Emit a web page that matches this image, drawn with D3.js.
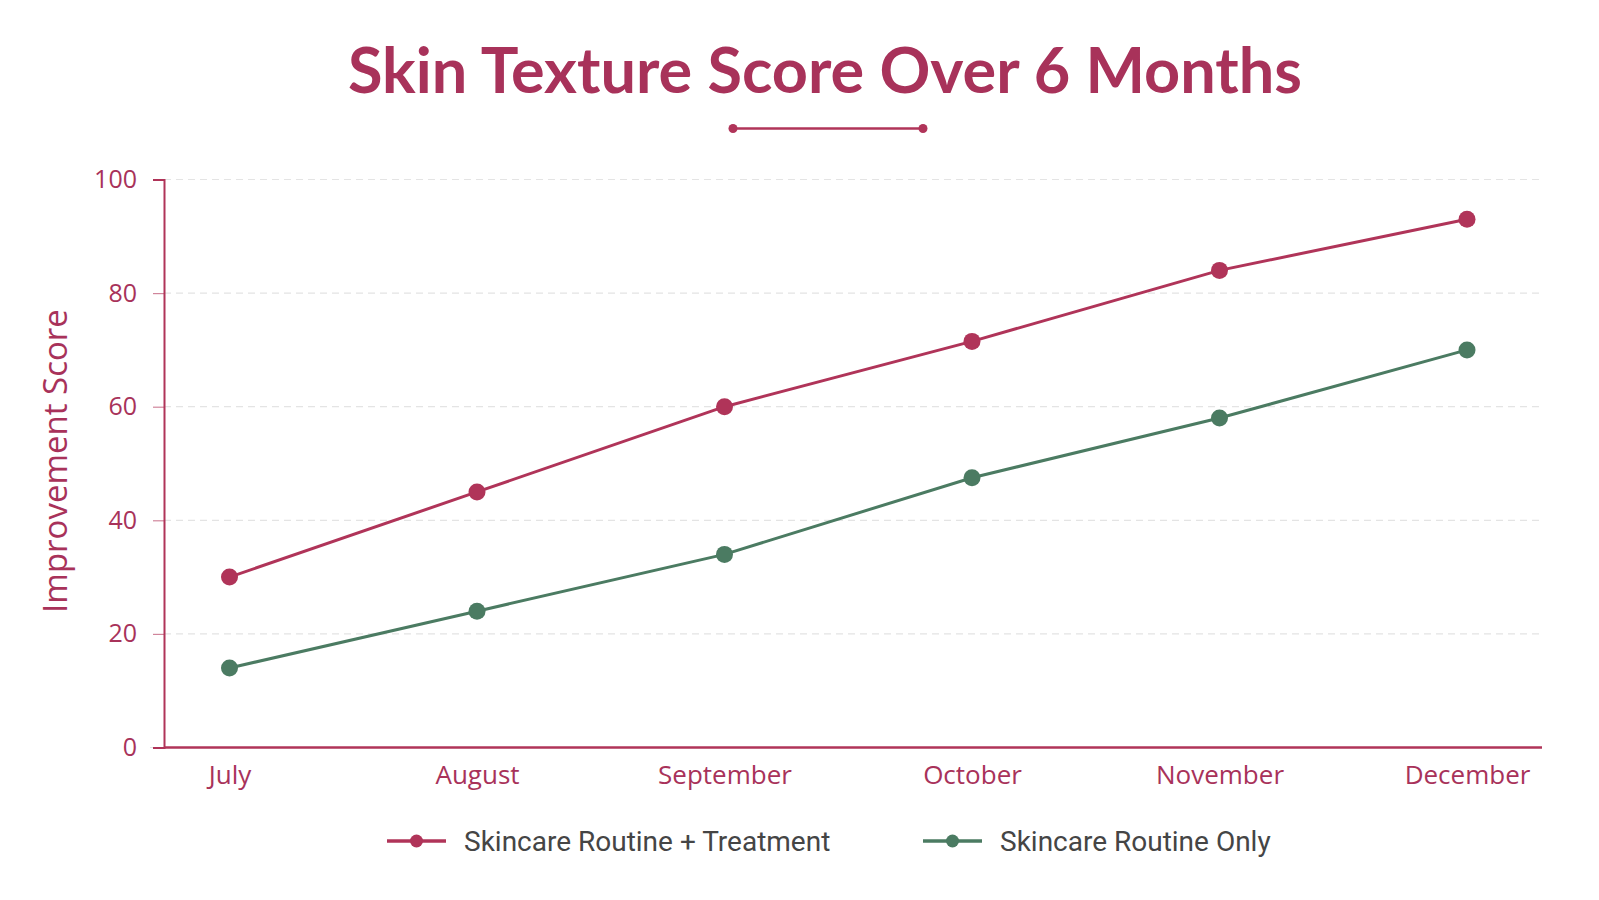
<!DOCTYPE html>
<html>
<head>
<meta charset="utf-8">
<script src="https://cdn.jsdelivr.net/npm/d3@7"></script>
<style>
  html, body { margin: 0; padding: 0; background: #ffffff; }
  svg { display: block; }
</style>
</head>
<body>
<svg id="chart" width="1599" height="900"></svg>
<script>
const months = ["July", "August", "September", "October", "November", "December"];
const treatmentValues = [30, 45, 60, 71.5, 84, 93];
const routineValues = [14, 24, 34, 47.5, 58, 70];
const yTicks = [0, 20, 40, 60, 80, 100];
const seriesNames = ["Skincare Routine + Treatment", "Skincare Routine Only"];
const seriesColors = ["#b03459", "#4b7b62"];
const titleText = "Skin Texture Score Over 6 Months";
const yLabel = "Improvement Score";

const svg = d3.select("#chart");
const W = 1599, H = 900;
const margin = { left: 164, right: 57, top: 179.5, bottom: 152.5 };
const plotW = W - margin.left - margin.right;
const plotH = H - margin.top - margin.bottom;
const axisColor = "#b03459";
const textFont = "'Open Sans', sans-serif";

const x = d3.scalePoint().domain(months).range([65.5, plotW - 75]);
const y = d3.scaleLinear().domain([0, 100]).range([plotH, 0]);

// Title
svg.append("text")
  .attr("x", 825).attr("y", 93)
  .attr("text-anchor", "middle")
  .attr("font-family", "Lato, 'Open Sans', sans-serif")
  .attr("font-weight", 700)
  .attr("font-size", 63)
  .attr("fill", "#a8325a")
  .text(titleText);

// decorative line
const deco = svg.append("g").attr("transform", "translate(0,128.5)");
deco.append("line").attr("x1", 733).attr("x2", 923).attr("y1", 0).attr("y2", 0)
  .attr("stroke", "#b03459").attr("stroke-width", 2.5);
[733, 923].forEach(cx => deco.append("circle").attr("cx", cx).attr("cy", 0).attr("r", 4.5).attr("fill", "#b03459"));

const g = svg.append("g").attr("transform", `translate(${margin.left},${margin.top})`);

// gridlines
g.append("g")
  .selectAll("line")
  .data(yTicks)
  .join("line")
  .attr("x1", d => d === 0 ? -14 : 0).attr("x2", plotW)
  .attr("y1", d => y(d)).attr("y2", d => y(d))
  .attr("stroke", "#e4e4e4").attr("stroke-width", 1.2)
  .attr("stroke-dasharray", d => d === 0 ? null : "7,5");

// y axis
const yAxis = g.append("g")
  .call(d3.axisLeft(y).tickValues(yTicks).tickSize(11).tickPadding(16));
yAxis.select(".domain").attr("stroke", axisColor).attr("stroke-width", 2);
yAxis.selectAll(".tick line").attr("stroke", axisColor).attr("stroke-width", 1.2).attr("stroke-opacity", 0.6);
yAxis.selectAll(".tick text")
  .attr("fill", "#a8325a")
  .attr("font-family", textFont)
  .attr("font-size", 25);

// x axis
const xAxis = g.append("g")
  .attr("transform", `translate(0,${plotH})`)
  .call(d3.axisBottom(x).tickSize(0).tickPadding(18));
xAxis.select(".domain").remove();
xAxis.append("line").attr("x1", 0).attr("x2", plotW).attr("y1", 0).attr("y2", 0)
  .attr("stroke", axisColor).attr("stroke-width", 2.5);
xAxis.selectAll(".tick text")
  .attr("fill", "#a8325a")
  .attr("font-family", textFont)
  .attr("font-size", 26)
  .attr("dy", "0.71em");

// y label
svg.append("text")
  .attr("transform", `translate(67,461) rotate(-90)`)
  .attr("text-anchor", "middle")
  .attr("font-family", textFont)
  .attr("font-size", 33)
  .attr("fill", "#a8325a")
  .text(yLabel);

// lines
const seriesData = [treatmentValues, routineValues];
const line = d3.line().x((d, i) => x(months[i])).y(d => y(d));
seriesData.forEach((vals, si) => {
  g.append("path")
    .datum(vals)
    .attr("d", line)
    .attr("fill", "none")
    .attr("stroke", seriesColors[si])
    .attr("stroke-width", 3);
  g.append("g").selectAll("circle")
    .data(vals)
    .join("circle")
    .attr("cx", (d, i) => x(months[i]))
    .attr("cy", d => y(d))
    .attr("r", 8.5)
    .attr("fill", seriesColors[si]);
});

// legend
const legendX = [387, 923];
const legend = svg.append("g").attr("transform", "translate(0,841)");
seriesNames.forEach((name, i) => {
  const lg = legend.append("g").attr("transform", `translate(${legendX[i]},0)`);
  lg.append("line").attr("x1", 0).attr("x2", 59).attr("y1", 0).attr("y2", 0)
    .attr("stroke", seriesColors[i]).attr("stroke-width", 3.5);
  lg.append("circle").attr("cx", 29.5).attr("cy", 0).attr("r", 6.5).attr("fill", seriesColors[i]);
  lg.append("text").attr("x", 77).attr("y", 0).attr("dy", "0.35em")
    .attr("font-family", "Roboto, sans-serif")
    .attr("font-size", 28)
    .attr("fill", "#454545")
    .text(name);
});
</script>
</body>
</html>
